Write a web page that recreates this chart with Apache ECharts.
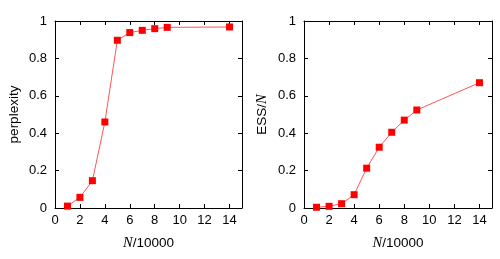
<!DOCTYPE html>
<html><head><meta charset="utf-8">
<script src="https://cdn.jsdelivr.net/npm/echarts@6/dist/echarts.min.js"></script>
<style>html,body{margin:0;padding:0;background:#fff}#c{width:500px;height:259px}</style>
</head><body><div id="c"></div>
<script>
const xValues = [1, 2, 3, 4, 5, 6, 7, 8, 9, 14];
const perplexity = [0.01, 0.057, 0.146, 0.46, 0.897, 0.938, 0.95, 0.959, 0.966, 0.968];
const essOverN = [0.004, 0.009, 0.023, 0.071, 0.213, 0.325, 0.405, 0.47, 0.524, 0.67];
const xTicks = [0, 2, 4, 6, 8, 10, 12, 14];
const yTicks = [0, 0.2, 0.4, 0.6, 0.8, 1];

const chart = echarts.init(document.getElementById('c'), null, {renderer: 'canvas'});
const font = 'Liberation Sans, Arial, Helvetica, sans-serif';
const lineStyle = {color: '#000', width: 1};
const rich = {i: {fontStyle: 'italic', fontFamily: 'Liberation Serif, Times New Roman, serif', fontSize: 14.5, color: '#000'}, n: {fontFamily: font, fontSize: 13.5, color: '#000'}};

function xAxis(gi, main) {
  return {
    type: 'value', gridIndex: gi, min: 0, max: 15, interval: 2,
    position: main ? 'bottom' : 'top',
    axisLine: {show: true, onZero: false, lineStyle},
    axisTick: {show: true, inside: true, length: 4, lineStyle},
    axisLabel: {show: main, color: '#000', fontFamily: font, fontSize: 13, margin: 6,
      formatter: v => (v % 2 === 0 && v <= 14) ? String(v) : ''},
    splitLine: {show: false},
    name: main ? '{i|N}{n|/10000}' : '', nameLocation: 'middle', nameGap: 28,
    nameTextStyle: {rich}
  };
}
function yAxis(gi, main, name) {
  return {
    type: 'value', gridIndex: gi, min: 0, max: 1, interval: 0.2,
    position: main ? 'left' : 'right',
    axisLine: {show: true, onZero: false, lineStyle},
    axisTick: {show: true, inside: true, length: 4, lineStyle},
    axisLabel: {show: main, color: '#000', fontFamily: font, fontSize: 13, margin: 8,
      formatter: v => String(Math.round(v * 10) / 10)},
    splitLine: {show: false},
    name: main ? name : '', nameLocation: 'middle', nameGap: 34,
    nameTextStyle: {rich, color: '#000', fontFamily: font, fontSize: 13.5}
  };
}
function series(xi, data) {
  return {
    type: 'line', xAxisIndex: xi, yAxisIndex: xi,
    data: xValues.map((x, i) => [x, data[i]]),
    symbol: 'rect', symbolSize: 7,
    itemStyle: {color: '#ff0000'},
    lineStyle: {color: '#ff5555', width: 1},
    animation: false
  };
}
chart.setOption({
  animation: false,
  grid: [
    {left: 55, top: 21, width: 187, height: 187},
    {left: 304, top: 21, width: 188, height: 187}
  ],
  xAxis: [xAxis(0, true), xAxis(1, true), xAxis(0, false), xAxis(1, false)],
  yAxis: [yAxis(0, true, '{n|perplexity}'), yAxis(1, true, '{n|ESS/}{i|N}'), yAxis(0, false, ''), yAxis(1, false, '')],
  series: [
    series(0, perplexity), series(1, essOverN),
    {type: 'line', xAxisIndex: 2, yAxisIndex: 2, data: []},
    {type: 'line', xAxisIndex: 3, yAxisIndex: 3, data: []}
  ]
});
</script></body></html>
